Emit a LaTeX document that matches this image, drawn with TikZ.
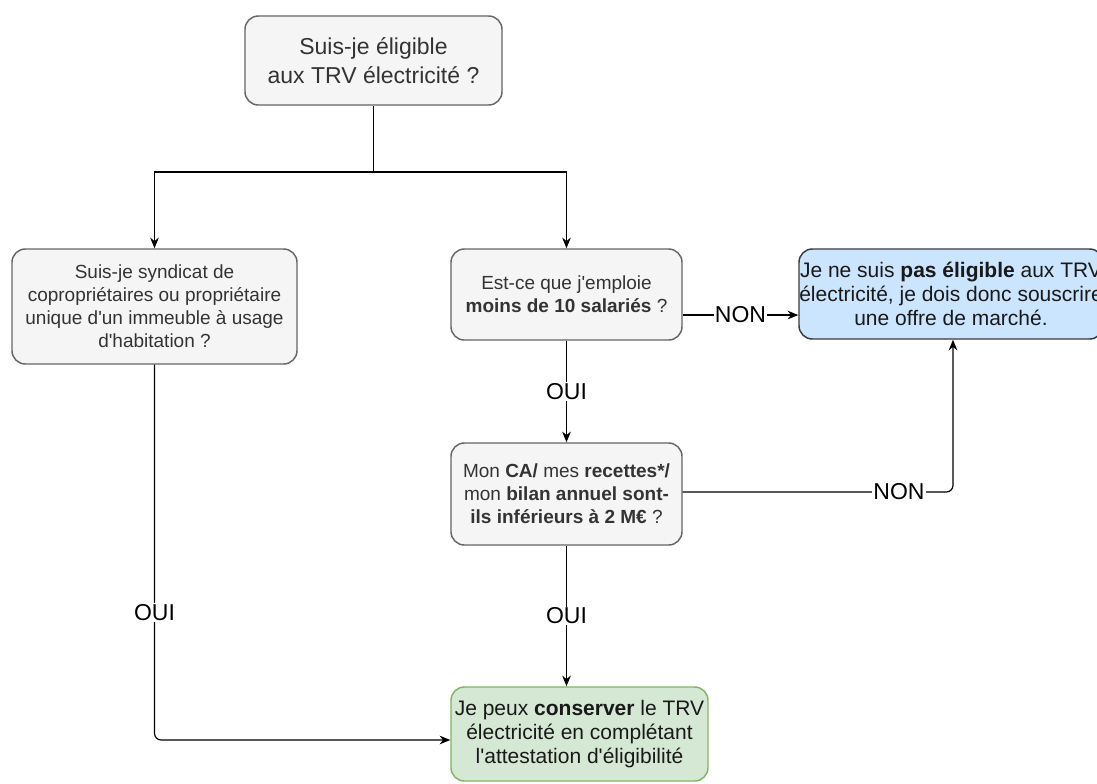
\documentclass[tikz,border=0pt]{standalone}
\usepackage{fontspec}
\setmainfont{Liberation Sans}
\usetikzlibrary{arrows.meta,calc}
\definecolor{boxfill}{HTML}{F5F5F5}
\definecolor{boxline}{HTML}{666666}
\definecolor{boxtext}{HTML}{333333}
\definecolor{bluefill}{HTML}{CCE5FF}
\definecolor{blueline}{HTML}{36393D}
\definecolor{greenfill}{HTML}{D5E8D4}
\definecolor{greenline}{HTML}{82B366}
\newcommand{\q}{\textquotesingle}
\tikzstyle{qbox}=[rectangle, rounded corners=10pt, inner sep=0pt, line width=1.1pt, draw=boxline, fill=boxfill, text=boxtext, align=center, font=\fontsize{14.25}{17.25}\selectfont, anchor=center]
\tikzstyle{endbox}=[qbox, text=black!90, font=\fontsize{15.75}{18}\selectfont]
\tikzstyle{lbl}=[fill=white, inner sep=1pt, font=\fontsize{17.25}{20}\selectfont]
\tikzstyle{arr}=[line width=0.9pt, -{Stealth[length=8pt,width=6.5pt]}]

\begin{document}
\begin{tikzpicture}[x=0.75pt, y=-0.75pt]
	\useasboundingbox (0,0) rectangle (1097,783);
	\clip (0,0) rectangle (1097,783);

	\node[qbox, minimum width=192.75pt, minimum height=66.75pt, font=\fontsize{17.25}{21.75}\selectfont](question) at (373.5,60.5){Suis-je éligible\\aux TRV électricité ?};
	\node[qbox, minimum width=213.75pt, minimum height=86.25pt](syndic) at (154.5,306.5){Suis-je syndicat de\\copropriétaires ou propriétaire\\unique d\q un immeuble à usage\\d\q habitation ?};
	\node[qbox, minimum width=173.25pt, minimum height=68.25pt](salaries) at (566.5,294.5){Est-ce que j\q emploie\\\textbf{moins de 10 salariés} ?};
	\node[qbox, minimum width=173.25pt, minimum height=76.5pt](chiffre) at (566.5,494){Mon \textbf{CA/} mes \textbf{recettes*/}\\mon \textbf{bilan annuel sont-}\\\textbf{ils inférieurs à 2 M€} ?};
	\node[endbox, draw=greenline, fill=greenfill, minimum width=192.75pt, minimum height=70.5pt](conserver) at (579.5,734){Je peux \textbf{conserver} le TRV\\électricité en complétant\\l\q attestation d\q éligibilité};
	\node[endbox, draw=blueline, fill=bluefill, minimum width=228pt, minimum height=67.5pt](marche) at (951,294){Je ne suis \textbf{pas éligible} aux TRV\\électricité, je dois donc souscrire\\une offre de marché.};

	\coordinate (split) at (373.5,172);
	\draw[line width=0.9pt] (question.south) -- (split);
	\draw[arr] (split) -| (syndic.north);
	\draw[arr] (split) -| (salaries.north);

	\draw[arr] ([yshift=-15.4pt]salaries.east) -- node[lbl]{NON} ([yshift=-15.4pt]salaries.east -| marche.west);
	\draw[arr] (salaries.south) -- node[lbl]{OUI} (chiffre.north);
	\draw[arr, rounded corners=5pt] ([yshift=1.5pt]chiffre.east) -| node[lbl, pos=0.4]{NON} ([xshift=1.5pt]marche.south);
	\draw[arr] (chiffre.south) -- node[lbl]{OUI} (chiffre.south |- conserver.north);
	\draw[arr, rounded corners=5pt] (syndic.south) |- node[lbl, pos=0.33]{OUI} ([yshift=-4.5pt]conserver.west);

\end{tikzpicture}
\end{document}
